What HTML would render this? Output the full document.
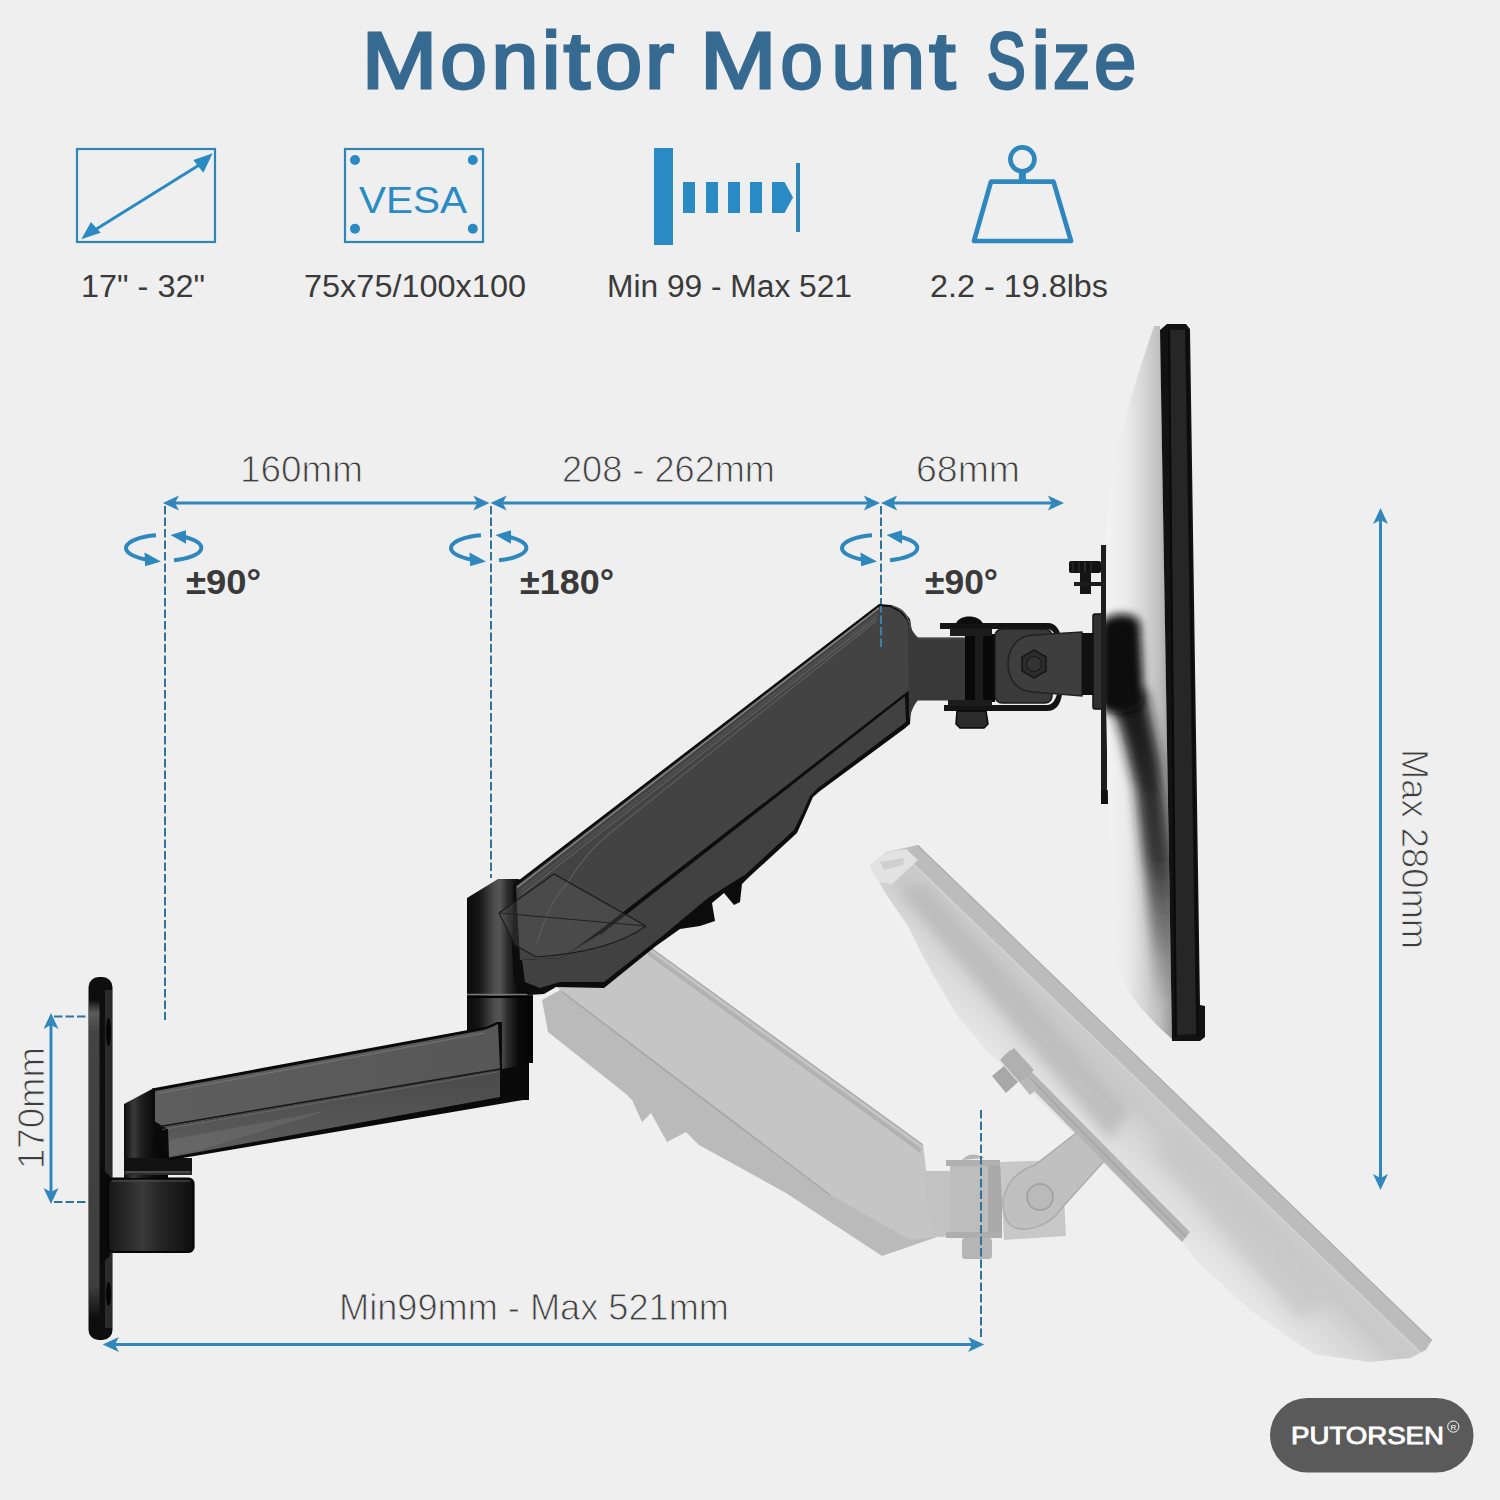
<!DOCTYPE html>
<html><head><meta charset="utf-8"><title>Monitor Mount Size</title>
<style>
html,body{margin:0;padding:0;background:#efefef;}
body{width:1500px;height:1500px;overflow:hidden;}
svg{display:block;}
text{font-family:"Liberation Sans",sans-serif;}
</style></head>
<body>
<svg width="1500" height="1500" viewBox="0 0 1500 1500" xmlns="http://www.w3.org/2000/svg">
<defs>
  <marker id="ah" viewBox="0 0 10 10" refX="9" refY="5" markerWidth="6" markerHeight="6" orient="auto-start-reverse"><path d="M0,0 L10,5 L0,10 L3,5 Z" fill="#2f88bd"/></marker>
</defs>
<rect x="0" y="0" width="1500" height="1500" fill="#efefef"/>

<!-- TITLE -->
<g font-size="80" fill="#366a91" stroke="#366a91" stroke-width="2.8">
<text transform="translate(361.76,88.3) scale(1.133,1)">M</text>
<text transform="translate(440.33,88.3) scale(1.047,1)">o</text>
<text transform="translate(491.51,88.3) scale(1.052,1)">n</text>
<text transform="translate(541.89,88.3) scale(1.031,1)">i</text>
<text transform="translate(563.67,88.3) scale(1.176,1)">t</text>
<text transform="translate(595.11,88.3) scale(1.059,1)">o</text>
<text transform="translate(644.88,88.3) scale(1.088,1)">r</text>
<text transform="translate(699.98,88.3) scale(1.147,1)">M</text>
<text transform="translate(780.48,88.3) scale(0.949,1)">o</text>
<text transform="translate(831.78,88.3) scale(0.978,1)">u</text>
<text transform="translate(879.64,88.3) scale(1.016,1)">n</text>
<text transform="translate(929.17,88.3) scale(1.176,1)">t</text>
<text transform="translate(986.80,88.3) scale(0.732,1)">S</text>
<text transform="translate(1031.45,88.3) scale(1.041,1)">i</text>
<text transform="translate(1052.90,88.3) scale(0.936,1)">z</text>
<text transform="translate(1094.29,88.3) scale(0.944,1)">e</text>
</g>

<!-- ICON 1: screen size -->
<g fill="none" stroke="#2f86b6">
  <rect x="77" y="149" width="138" height="93" stroke-width="2.2"/>
</g>
<g fill="#2a8bc4" stroke="#2a8bc4">
  <line x1="90" y1="233" x2="204" y2="162" stroke-width="3"/>
  <polygon points="212.7,153.3 193.3,160 203.3,172.7" stroke="none"/>
  <polygon points="81.3,239.3 90.9,222 100.7,232.7" stroke="none"/>
</g>

<!-- ICON 2: VESA -->
<rect x="345" y="149" width="138" height="93" fill="none" stroke="#2f86b6" stroke-width="2.2"/>
<g fill="#2a8bc4">
  <circle cx="355" cy="160" r="5"/><circle cx="472.8" cy="160" r="5"/>
  <circle cx="355" cy="228.7" r="5"/><circle cx="472.8" cy="228.7" r="5"/>
</g>
<text x="359" y="213" font-size="37" fill="#2a8bc4" textLength="108" lengthAdjust="spacingAndGlyphs">VESA</text>

<!-- ICON 3: distance -->
<g fill="#2a8bc4">
  <rect x="654" y="148" width="19" height="97"/>
  <rect x="683" y="182" width="12" height="31"/>
  <rect x="706" y="182" width="12" height="31"/>
  <rect x="728" y="182" width="12" height="31"/>
  <rect x="750" y="182" width="12" height="31"/>
  <polygon points="772,182 784.5,182 793,197.5 784.5,213 772,213"/>
  <rect x="796" y="163" width="4" height="69" fill="#2f86b6"/>
</g>

<!-- ICON 4: weight -->
<g fill="none" stroke="#2f88bd" stroke-width="4.7" stroke-linejoin="round">
  <circle cx="1022.4" cy="159.3" r="12"/>
  <line x1="1022.4" y1="170" x2="1022.4" y2="181" stroke-width="7"/>
  <polygon points="991,181.6 1053.5,181.6 1071,241 974,241"/>
</g>

<!-- ICON LABELS -->
<g font-size="31" fill="#3a3a3a">
  <text x="81" y="297" textLength="124" lengthAdjust="spacingAndGlyphs">17" - 32"</text>
  <text x="304" y="297" textLength="222" lengthAdjust="spacingAndGlyphs">75x75/100x100</text>
  <text x="607" y="297" textLength="245" lengthAdjust="spacingAndGlyphs">Min 99 - Max 521</text>
  <text x="930" y="297" textLength="178" lengthAdjust="spacingAndGlyphs">2.2 - 19.8lbs</text>
</g>

<!-- DIMENSION LABELS -->
<g font-size="36" fill="#3e3e3e" stroke="#efefef" stroke-width="0.9">
  <text x="240" y="482" textLength="123" lengthAdjust="spacingAndGlyphs">160mm</text>
  <text x="562" y="482" textLength="213" lengthAdjust="spacingAndGlyphs">208 - 262mm</text>
  <text x="916" y="482" textLength="104" lengthAdjust="spacingAndGlyphs">68mm</text>
  <text x="339" y="1320" textLength="390" lengthAdjust="spacingAndGlyphs">Min99mm - Max 521mm</text>
</g>
<g font-size="36" fill="#3e3e3e" stroke="#efefef" stroke-width="0.9">
  <text transform="translate(44,1169) rotate(-90)" textLength="122" lengthAdjust="spacingAndGlyphs">170mm</text>
  <text transform="translate(1402,749) rotate(90)" textLength="200" lengthAdjust="spacingAndGlyphs">Max 280mm</text>
</g>
<g font-size="35" font-weight="bold" fill="#3a3a3a">
  <text x="186" y="594" textLength="75" lengthAdjust="spacingAndGlyphs">±90°</text>
  <text x="520" y="594" textLength="94" lengthAdjust="spacingAndGlyphs">±180°</text>
  <text x="925" y="594" textLength="73" lengthAdjust="spacingAndGlyphs">±90°</text>
</g>

<!-- DIMENSION LINES -->
<g stroke="#3187bb" stroke-width="3" fill="none">
  <line x1="170" y1="503" x2="483" y2="503"/>
  <line x1="497" y1="503" x2="873" y2="503"/>
  <line x1="887" y1="503" x2="1058" y2="503"/>
  <line x1="1380.5" y1="515" x2="1380.5" y2="1183"/>
  <line x1="51" y1="1020" x2="51" y2="1197"/>
  <line x1="109" y1="1344.5" x2="977" y2="1344.5"/>
</g>
<g fill="#3187bb" id="arrowheads">
  <!-- left-pointing at 162.8 -->
  <path d="M162.8,503 L179,495.5 L175,503 L179,510.5 Z"/>
  <path d="M489.5,503 L473.3,495.5 L477.3,503 L473.3,510.5 Z"/>
  <path d="M490.5,503 L506.7,495.5 L502.7,503 L506.7,510.5 Z"/>
  <path d="M880,503 L863.8,495.5 L867.8,503 L863.8,510.5 Z"/>
  <path d="M881,503 L897.2,495.5 L893.2,503 L897.2,510.5 Z"/>
  <path d="M1064,503 L1047.8,495.5 L1051.8,503 L1047.8,510.5 Z"/>
  <!-- vertical max 280 -->
  <path d="M1380.5,508 L1373,524 L1380.5,520 L1388,524 Z"/>
  <path d="M1380.5,1190 L1373,1174 L1380.5,1178 L1388,1174 Z"/>
  <!-- 170mm -->
  <path d="M51,1013 L43.5,1029 L51,1025 L58.5,1029 Z"/>
  <path d="M51,1204 L43.5,1188 L51,1192 L58.5,1188 Z"/>
  <!-- bottom -->
  <path d="M102.7,1344.5 L118.9,1337 L114.9,1344.5 L118.9,1352 Z"/>
  <path d="M984.3,1344.5 L968.1,1337 L972.1,1344.5 L968.1,1352 Z"/>
</g>
<g stroke="#2f7599" stroke-width="2" fill="none" stroke-dasharray="8.5,3">
  <line x1="165" y1="506" x2="165" y2="1020"/>
  <line x1="491" y1="506" x2="491" y2="878"/>
  <line x1="881" y1="506" x2="881" y2="648"/>
  <line x1="54" y1="1016.5" x2="86" y2="1016.5"/>
  <line x1="54" y1="1202" x2="86" y2="1202"/>
</g>

<!-- ROTATION ICONS -->
<g fill="none" stroke="#2f88bd" stroke-width="4">
  <path d="M156,535.3 A38,13 0 0 0 148,559.8"/>
  <path d="M174,560.3 A38,13 0 0 0 182,536.5"/>
</g>
<g fill="#2f88bd">
  <polygon points="161,561.5 144.5,552.6 145.2,566.2"/>
  <polygon points="170.5,535 186,530.3 186,543.8"/>
</g>
<g transform="translate(325,0)">
<g fill="none" stroke="#2f88bd" stroke-width="4">
  <path d="M156,535.3 A38,13 0 0 0 148,559.8"/>
  <path d="M174,560.3 A38,13 0 0 0 182,536.5"/>
</g>
<g fill="#2f88bd">
  <polygon points="161,561.5 144.5,552.6 145.2,566.2"/>
  <polygon points="170.5,535 186,530.3 186,543.8"/>
</g>
</g>
<g transform="translate(716,0)">
<g fill="none" stroke="#2f88bd" stroke-width="4">
  <path d="M156,535.3 A38,13 0 0 0 148,559.8"/>
  <path d="M174,560.3 A38,13 0 0 0 182,536.5"/>
</g>
<g fill="#2f88bd">
  <polygon points="161,561.5 144.5,552.6 145.2,566.2"/>
  <polygon points="170.5,535 186,530.3 186,543.8"/>
</g>
</g>

<!-- ARM_START -->
<defs>
  <linearGradient id="gBack" x1="0" y1="0" x2="1" y2="0">
    <stop offset="0" stop-color="#f3f3f3"/>
    <stop offset="0.3" stop-color="#ebebeb"/>
    <stop offset="0.6" stop-color="#d4d4d4"/>
    <stop offset="0.82" stop-color="#bdbdbd"/>
    <stop offset="1" stop-color="#9c9c9c"/>
  </linearGradient>
  <linearGradient id="gGhostPerp" gradientUnits="userSpaceOnUse" x1="1175" y1="1092" x2="1105.6" y2="1164">
    <stop offset="0" stop-color="#b4b4b4"/>
    <stop offset="0.03" stop-color="#bcbcbc"/>
    <stop offset="0.15" stop-color="#c0c0c0"/>
    <stop offset="0.17" stop-color="#cbcbcb"/>
    <stop offset="0.35" stop-color="#c9c9c9"/>
    <stop offset="0.6" stop-color="#d6d6d6"/>
    <stop offset="1" stop-color="#e6e6e6"/>
  </linearGradient>
  <linearGradient id="gGhostBack" x1="0" y1="1" x2="1" y2="0">
    <stop offset="0" stop-color="#e6e6e6"/>
    <stop offset="0.5" stop-color="#d6d6d6"/>
    <stop offset="1" stop-color="#c6c6c6"/>
  </linearGradient>
  <linearGradient id="gCol2" x1="0" y1="0" x2="1" y2="0">
    <stop offset="0" stop-color="#0a0a0a"/>
    <stop offset="0.18" stop-color="#151515"/>
    <stop offset="0.42" stop-color="#4e4e4e"/>
    <stop offset="0.5" stop-color="#555"/>
    <stop offset="0.62" stop-color="#2a2a2a"/>
    <stop offset="0.78" stop-color="#0a0a0a"/>
    <stop offset="1" stop-color="#050505"/>
  </linearGradient>
  <linearGradient id="gCol" x1="0" y1="0" x2="1" y2="0">
    <stop offset="0" stop-color="#0c0c0c"/>
    <stop offset="0.22" stop-color="#3a3a3a"/>
    <stop offset="0.4" stop-color="#1e1e1e"/>
    <stop offset="0.7" stop-color="#0a0a0a"/>
    <stop offset="1" stop-color="#050505"/>
  </linearGradient>
  <linearGradient id="gBlock" x1="0" y1="0" x2="1" y2="0">
    <stop offset="0" stop-color="#161616"/>
    <stop offset="0.4" stop-color="#3a3a3a"/>
    <stop offset="0.6" stop-color="#262626"/>
    <stop offset="1" stop-color="#0e0e0e"/>
  </linearGradient>
  <linearGradient id="gFront" x1="0" y1="0" x2="0" y2="1">
    <stop offset="0" stop-color="#494949"/>
    <stop offset="1" stop-color="#5e5e5e"/>
  </linearGradient>
  <linearGradient id="gPlate" x1="0" y1="0" x2="0" y2="1">
    <stop offset="0" stop-color="#0e0e0e"/>
    <stop offset="0.04" stop-color="#5a5a5a"/>
    <stop offset="0.1" stop-color="#444"/>
    <stop offset="0.9" stop-color="#3e3e3e"/>
    <stop offset="1" stop-color="#0e0e0e"/>
  </linearGradient>
  <linearGradient id="gTop" x1="0" y1="0" x2="1" y2="0">
    <stop offset="0" stop-color="#5e5e5e"/>
    <stop offset="1" stop-color="#575757"/>
  </linearGradient>
  <linearGradient id="gBand" x1="0" y1="0" x2="0" y2="1">
    <stop offset="0" stop-color="#111" stop-opacity="1"/>
    <stop offset="0.55" stop-color="#222" stop-opacity="0.85"/>
    <stop offset="0.8" stop-color="#444" stop-opacity="0.5"/>
    <stop offset="1" stop-color="#777" stop-opacity="0.15"/>
  </linearGradient>
  <filter id="blur6" x="-50%" y="-50%" width="200%" height="200%"><feGaussianBlur stdDeviation="6"/></filter>
  <filter id="blur4" x="-50%" y="-50%" width="200%" height="200%"><feGaussianBlur stdDeviation="4.5"/></filter>
  <filter id="blur3" x="-50%" y="-50%" width="200%" height="200%"><feGaussianBlur stdDeviation="3"/></filter>
  <clipPath id="clipBack"><path d="M1154,326 L1160,326 L1172,1039 C1155,1024 1140,1008 1132,996 C1120,978 1115,955 1113,920 L1108,800 L1106,700 L1106,560 C1106,520 1109,480 1116,452 C1126,410 1140,368 1154,326 Z"/></clipPath>
  <clipPath id="clipGhost"><path d="M870,866 L886,852 L918,845 L1432,1340 L1426,1350 L1410,1358 L1370,1362 L1314,1354 L1290,1338 L1250,1310 L1198,1262 L1182,1242 L1100,1160 L1010,1072 L986,1050 L956,1014 L930,970 L908,926 L887,896 Z"/></clipPath>
</defs>

<!-- ===== GHOST MONITOR ===== -->
<g id="ghostMon">
  <path d="M870,866 L886,852 L918,845 L1432,1340 L1426,1350 L1410,1358 L1370,1362 L1314,1354 L1290,1338 L1250,1310 L1198,1262 L1182,1242 L1100,1160 L1010,1072 L986,1050 L956,1014 L930,970 L908,926 L887,896 Z" fill="url(#gGhostPerp)"/>
  <g clip-path="url(#clipGhost)">
    <path d="M898,890 L925,885 L1130,1110 L1110,1140 Z" fill="#b9b9b9" filter="url(#blur6)" opacity="0.8"/>
    <path d="M1150,1150 L1180,1140 L1330,1300 L1300,1320 Z" fill="#c4c4c4" filter="url(#blur6)" opacity="0.6"/>
    <polygon points="918,845 1432,1340 1421,1351.5 907,856.5" fill="#bcbcbc"/>
    <line x1="918" y1="845" x2="1432" y2="1340" stroke="#ababab" stroke-width="2"/>
    <line x1="906" y1="857.5" x2="1420" y2="1352.5" stroke="#d2d2d2" stroke-width="1.5"/>
    <polygon points="870,866 886,852 906,849 918,860 892,884 878,882" fill="#e2e2e2"/>
    <polygon points="880,862 904,858 903,865 884,870" fill="#cfcfcf"/>
  </g>
  <path d="M886,896 C900,925 915,950 930,970" stroke="#f2f2f2" stroke-width="2" fill="none"/>
</g>

<!-- ===== GHOST ARM ===== -->
<g id="ghostArm">
  <!-- lower face -->
  <path d="M542,1000 L548,1032 L626,1094 L632,1100 L642,1122 L651,1113 L667,1142 L686,1132 L699,1145 L786,1193 L882,1256 L937,1237 L926,1169 L840,1120 L560,990 Z" fill="#bababa"/>
  <!-- upper face -->
  <path d="M600,921 L648,945.5 L923,1144.5 L926,1169 L936,1237 L910,1240 L824,1191 L561,991 L545,975 Z" fill="#c5c5c5"/>
  <line x1="561" y1="991" x2="830" y2="1195" stroke="#a6a6a6" stroke-width="1.5"/>
  <line x1="648" y1="952" x2="921" y2="1150" stroke="#b2b2b2" stroke-width="3"/>
  <line x1="648" y1="946" x2="923" y2="1145" stroke="#aaaaaa" stroke-width="1.5"/>
  <line x1="648" y1="954.5" x2="921" y2="1152.5" stroke="#a8a8a8" stroke-width="1"/>
  <!-- connector/neck -->
  <path d="M925,1171 L1000,1171 L1000,1235 L935,1237 L926,1200 Z" fill="#c2c2c2"/>
  <!-- joint -->
  <rect x="946" y="1160" width="54" height="6" fill="#b0b0b0"/>
  <rect x="950" y="1166" width="38" height="70" fill="#bdbdbd"/>
  <rect x="988" y="1166" width="14" height="70" fill="#a9a9a9"/>
  <rect x="946" y="1232" width="56" height="6" fill="#adadad"/>
  <path d="M962,1160 Q970,1150 985,1158 Z" fill="#b5b5b5"/>
  <rect x="962" y="1238" width="30" height="21" rx="3" fill="#b5b5b5"/>
  <!-- tilt plate & bar -->
  <path d="M1000,1162 L1062,1160 L1066,1236 L1004,1240 Z" fill="#c8c8c8"/>
  <path d="M1010,1225 C995,1205 1005,1175 1035,1165 L1080,1130 L1105,1160 L1060,1210 C1050,1225 1025,1235 1010,1225 Z" fill="#c0c0c0" stroke="#acacac" stroke-width="1.5"/>
  <circle cx="1040" cy="1197" r="13" fill="#bababa" stroke="#a5a5a5" stroke-width="2"/>
  <!-- ghost vesa bracket + screw -->
  <path d="M1002,1058 L1010,1050 L1190,1232 L1182,1242 Z" fill="#b4b4b4"/>
  <line x1="1006" y1="1054" x2="1186" y2="1237" stroke="#a3a3a3" stroke-width="1.2"/>
  <path d="M1000,1060 L1014,1048 L1034,1070 L1020,1083 Z" fill="#b0b0b0"/>
  <path d="M992,1076 L1004,1066 L1018,1082 L1006,1093 Z" fill="#a8a8a8"/>
  <path d="M1020,1083 L1028,1076 L1038,1088 L1030,1095 Z" fill="#b8b8b8"/>
</g>

<!-- ===== WALL PLATE ===== -->
<rect x="88.5" y="977" width="24" height="363" rx="10" fill="#0e0e0e"/>
<path d="M89,1000 L99.5,1000 L99.5,1318 L89,1318 Z" fill="url(#gPlate)"/>
<rect x="105" y="990" width="7" height="338" fill="#2a2a2a"/>
<ellipse cx="108.5" cy="1032" rx="2.5" ry="14" fill="#050505"/>
<ellipse cx="108.5" cy="1294" rx="2.5" ry="12" fill="#050505"/>
<!-- flange -->
<path d="M100,1168 L110,1176 L110,1256 L100,1264 Z" fill="#0a0a0a"/>
<!-- mount block -->
<rect x="108" y="1178.6" width="85.6" height="73.4" rx="5" fill="url(#gBlock)"/>
<rect x="108" y="1178.6" width="85.6" height="73.4" rx="5" fill="none" stroke="#050505" stroke-width="2"/>
<line x1="112" y1="1181" x2="190" y2="1181" stroke="#555" stroke-width="1"/>

<!-- ===== LOWER-LEFT COLUMN ===== -->
<path d="M124,1104 L154,1088 L168,1088 L168,1178 L124,1178 Z" fill="url(#gCol)"/>
<rect x="124" y="1158" width="68" height="16" fill="#121212"/>
<rect x="124" y="1171" width="68" height="4" fill="#2c2c2c"/>
<line x1="126" y1="1172" x2="190" y2="1172" stroke="#666" stroke-width="1"/>

<!-- ===== RIGHT COLUMN ===== -->
<path d="M467,898 L498,879 L518,879 L533,884 L533,1063 L529,1063 L529,1100 L467,1100 Z" fill="url(#gCol2)"/>
<line x1="467" y1="994.5" x2="533" y2="994.5" stroke="#777" stroke-width="1.5"/>
<line x1="467" y1="997" x2="533" y2="997" stroke="#000" stroke-width="2"/>

<!-- ===== LOWER ARM ===== -->
<path d="M152,1088.5 L487,1026.5 L497,1022 L502,1022 L502,1069 L528,1065 L529,1099 L168,1160.5 L154,1120 Z" fill="#0a0a0a"/>
<path d="M155,1091 L484,1030 C490,1028 494,1026 498,1024 L500,1069.5 L165,1127.5 L155,1121.5 Z" fill="url(#gTop)"/>
<path d="M165,1127.5 L500,1069.5 L500,1097 L169,1157.5 L168,1129 Z" fill="url(#gFront)"/>
<line x1="160" y1="1126.5" x2="500" y2="1069" stroke="#151515" stroke-width="1.5"/>
<line x1="162" y1="1129.5" x2="498" y2="1072" stroke="#777" stroke-width="0.8" opacity="0.7"/>
<line x1="158" y1="1093.5" x2="484" y2="1033" stroke="#747474" stroke-width="1.2"/>
<path d="M169,1140 L330,1110 L200,1150 L169,1156 Z" fill="#7a7a7a" opacity="0.35"/>

<!-- ===== UPPER ARM ===== -->
<path d="M514,884 L879,604 L891,605 L902,610 L910,619 L912,632 L912,692 L910,724 L904,729 L820,791 L813,797 L806,813 L797,833 L748,878 L742,884 L740,902 L734,905 L724,893 L712,903 L715,921 L700,926 L680,929 L656,946 L604,988 L556,987 L544,994 L528,995 L514,983 L512,950 Z" fill="#0c0c0c"/>
<!-- main face -->
<path d="M516,886 L879,606.5 L890,607 L900,612 L907.5,621 L909.5,632 L909.5,690 L600,930 L580,945 L560,958 L520,960 Z" fill="#434343"/>
<!-- lower band -->
<path d="M600,934 L905,696 L906,722 L818,788 L810,796 L803,812 L794,830 L746,874 L708,898 L660,938 L604,982 L560,982 L540,988 L525,982 L522,960 L560,958 Z" fill="#414141"/>
<line x1="600" y1="934" x2="905" y2="695" stroke="#0e0e0e" stroke-width="2.2"/>
<!-- top bevel highlights -->
<line x1="517" y1="887.5" x2="879" y2="608" stroke="#8a8a8a" stroke-width="1.3"/>
<line x1="520" y1="891.5" x2="878" y2="614" stroke="#4c4c4c" stroke-width="3"/>
<line x1="522" y1="894" x2="877" y2="617.5" stroke="#6c6c6c" stroke-width="0.9"/>
<path d="M537,944 C545,915 556,895 566,885 C580,862 595,845 610,833 L876,621" stroke="#5e5e5e" stroke-width="1.1" fill="none"/>
<!-- translucent knuckle overlay -->
<path d="M499,913 L554,874 L646,926 C630,940 600,950 560,956 L536,957 L515,945 Z" fill="#5a5a5a" opacity="0.35"/>
<path d="M499,913 L554,874 L646,926" stroke="#1a1a1a" stroke-width="1.2" fill="none"/>
<path d="M499,913 L515,945 L536,957 C580,954 620,945 646,926" stroke="#1c1c1c" stroke-width="1.2" fill="none"/>
<line x1="499" y1="913" x2="646" y2="926" stroke="#222" stroke-width="1"/>
<!-- right end rim -->
<path d="M892,606 C904,609 910,618 911,632 L911,692" stroke="#555" stroke-width="1.5" fill="none"/>

<line x1="881" y1="606" x2="881" y2="648" stroke="#3d8fc0" stroke-width="2" stroke-dasharray="8.5,3" stroke-dashoffset="2" opacity="0.8"/>
<!-- ===== TILT HEAD ===== -->
<path d="M908,624 C912,630 915,635 918,637.5 L968,637.5 L968,700.5 L918,700.5 C914,704 911,712 909,720 Z" fill="#393939"/>
<line x1="918" y1="638.5" x2="966" y2="638.5" stroke="#474747" stroke-width="1.5"/>
<rect x="965" y="634" width="30" height="68" fill="#080808"/>
<rect x="975" y="636" width="8" height="64" fill="#2a2a2a" opacity="0.6"/>
<!-- upper bracket -->
<path d="M940,623 L1048,623 C1056,623 1060,630 1062,640 L1057,641 C1055,633 1052,629 1047,629 L940,629 Z" fill="#141414"/>
<path d="M956,624 C958,614 980,614 983,624 Z" fill="#0d0d0d"/>
<rect x="950" y="629" width="42" height="7" fill="#1c1c1c"/>
<!-- lower bracket -->
<path d="M944,705 L1047,705 C1052,705 1055,701 1057,694 L1062,695 C1060,705 1056,711 1047,711 L944,711 Z" fill="#141414"/>
<rect x="948" y="700" width="44" height="6" fill="#1c1c1c"/>
<path d="M957,711 L986,711 L988,724 L984,728 L960,728 L956,724 Z" fill="#2b2b2b" stroke="#0a0a0a" stroke-width="1.5"/>
<!-- square tilt plate -->
<rect x="995" y="629" width="57" height="74" rx="7" fill="#3a3a3a" stroke="#1a1a1a" stroke-width="1.5"/>
<!-- round-end bar -->
<path d="M1034,635 L1082,632 L1082,696 L1034,692 C1018,692 1008,680 1008,664 C1008,648 1018,635 1034,635 Z" fill="#3e3e3e" stroke="#222" stroke-width="1.5"/>
<polygon points="1034,650 1046,657 1046,671 1034,678 1022,671 1022,657" fill="#2c2c2c" stroke="#151515" stroke-width="1.5"/>
<circle cx="1034" cy="664" r="7.5" fill="#333" stroke="#1a1a1a" stroke-width="1.2"/>
<rect x="1082" y="633" width="12" height="62" fill="#101010"/>
<!-- vesa plate & bracket -->
<rect x="1093" y="614" width="13" height="95" rx="2" fill="#303030" stroke="#111" stroke-width="1.5"/>
<rect x="1101" y="545" width="6" height="255" fill="#1e1e1e"/>
<rect x="1101" y="790" width="7" height="14" fill="#111"/>
<!-- thumb screw -->
<rect x="1069" y="561" width="32" height="12" rx="2" fill="#121212"/>
<line x1="1073" y1="562" x2="1073" y2="572" stroke="#333" stroke-width="1"/>
<line x1="1079" y1="562" x2="1079" y2="572" stroke="#333" stroke-width="1"/>
<line x1="1085" y1="562" x2="1085" y2="572" stroke="#444" stroke-width="1"/>
<line x1="1091" y1="562" x2="1091" y2="572" stroke="#333" stroke-width="1"/>
<rect x="1080" y="573" width="11" height="21" fill="#151515"/>
<rect x="1074" y="582" width="28" height="4" fill="#1c1c1c"/>

<!-- ===== MONITOR ===== -->
<path d="M1154,326 L1160,326 L1172,1039 C1155,1024 1140,1008 1132,996 C1120,978 1115,955 1113,920 L1108,800 L1106,700 L1106,560 C1106,520 1109,480 1116,452 C1126,410 1140,368 1154,326 Z" fill="url(#gBack)"/>
<g clip-path="url(#clipBack)">
  <path d="M1110,700 L1145,690 L1160,760 L1174,880 L1176,1000 L1156,1000 L1146,880 L1136,790 L1122,735 Z" fill="url(#gBand)" filter="url(#blur6)"/>
  <path d="M1100,624 C1108,612 1132,610 1140,622 L1144,700 C1138,716 1110,716 1100,708 Z" fill="#090909" filter="url(#blur4)"/>
</g>
<path d="M1160,330 L1167,324 L1186,324 L1190,329 L1200,1005 L1205,1006 L1205,1037 L1200,1041 L1172,1041 Z" fill="#121212"/>
<path d="M1170,330 L1185,330 L1196,1034 L1176,1035 Z" fill="#262626"/>
<line x1="1169" y1="330" x2="1176" y2="1036" stroke="#0a0a0a" stroke-width="2"/>
<line x1="1187" y1="330" x2="1198" y2="1036" stroke="#0a0a0a" stroke-width="1.5"/>

<!-- ARM_END -->

<line x1="981" y1="1110" x2="981" y2="1340" stroke="#2f7599" stroke-width="2" stroke-dasharray="8.5,3"/>
<!-- BADGE -->
<rect x="1270" y="1398" width="203.5" height="74.5" rx="37.25" fill="#5a5a5a"/>
<text x="1291" y="1444" font-size="24" fill="#ffffff" stroke="#ffffff" stroke-width="0.9" textLength="153" lengthAdjust="spacingAndGlyphs">PUTORSEN</text>
<circle cx="1453.3" cy="1426.6" r="5.6" fill="none" stroke="#fff" stroke-width="1"/>
<text x="1453.3" y="1430" font-size="8" fill="#fff" text-anchor="middle">R</text>
</svg>
</body></html>
